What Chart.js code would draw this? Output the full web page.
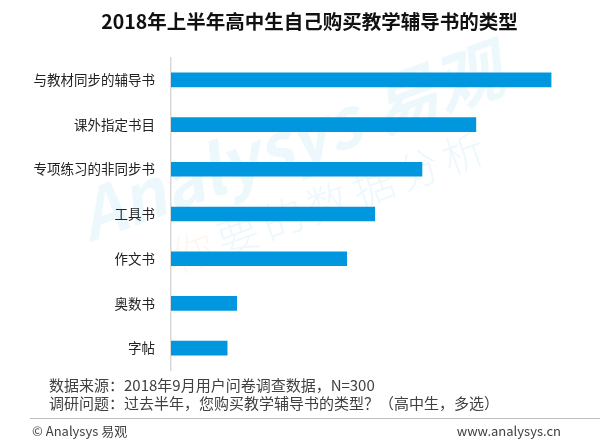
<!DOCTYPE html>
<html>
<head>
<meta charset="utf-8">
<script src="https://cdn.jsdelivr.net/npm/chart.js@4.4.0/dist/chart.umd.min.js"></script>
<style>
  html, body { margin: 0; padding: 0; background: #fff; }
  #wrap { position: relative; width: 607px; height: 444px; }
</style>
</head>
<body>
<div id="wrap"><canvas id="grafico" width="607" height="444"></canvas></div>
<script>
// ------------ Dados ------------
const categorias = ['与教材同步的辅导书', '课外指定书目', '专项练习的非同步书', '工具书', '作文书', '奥数书', '字帖'];
const valores = [67.7, 54.3, 44.7, 36.3, 31.3, 11.7, 10.0];

const titulo = '2018年上半年高中生自己购买教学辅导书的类型';
const notas = ['数据来源：2018年9月用户问卷调查数据，N=300', '调研问题：过去半年，您购买教学辅导书的类型？（高中生，多选）'];
const rodapeEsq = '© Analysys 易观';
const rodapeDir = 'www.analysys.cn';

const fonte = '"Noto Sans CJK SC", "Noto Sans", sans-serif';

// ------------ Textos e marca d'agua ------------
const textos = {
  id: 'textos',
  beforeDatasetsDraw(chart) {
    const ctx = chart.ctx;
    const ang = -20 * Math.PI / 180;
    ctx.save();
    ctx.textBaseline = 'middle';
    ctx.textAlign = 'center';

    ctx.save();
    ctx.translate(290, 142);
    ctx.rotate(ang);
    ctx.font = 'italic bold 68px ' + fonte;
    ctx.fillStyle = 'rgba(0,150,230,0.07)';
    ctx.fillText('Analysys 易观', 0, 0);
    ctx.restore();

    const slogan = '你要的数据分析';
    ctx.font = '300 42px ' + fonte;
    for (let i = 0; i < slogan.length; i++) {
      const d = (i - 3) * 48;
      ctx.save();
      ctx.translate(328 + d * Math.cos(ang), 202 + d * Math.sin(ang));
      ctx.rotate(ang);
      ctx.fillStyle = i === 0 ? 'rgba(255,150,40,0.08)' : 'rgba(0,150,230,0.07)';
      ctx.fillText(slogan[i], 0, 0);
      ctx.restore();
    }
    ctx.restore();
  },
  afterDraw(chart) {
    const ctx = chart.ctx;
    ctx.save();
    ctx.textBaseline = 'middle';
    ctx.fillStyle = '#111';
    ctx.font = 'bold 19.5px ' + fonte;
    ctx.textAlign = 'center';
    ctx.fillText(titulo, 309.5, 22);

    ctx.textAlign = 'left';
    ctx.fillStyle = '#404040';
    ctx.font = '15px ' + fonte;
    ctx.fillText(notas[0], 49, 385);
    ctx.fillText(notas[1], 49, 403);

    ctx.strokeStyle = '#bfbfbf';
    ctx.lineWidth = 1;
    ctx.beginPath();
    ctx.moveTo(30, 418.5);
    ctx.lineTo(600, 418.5);
    ctx.stroke();

    ctx.fillStyle = '#404040';
    ctx.font = '13px ' + fonte;
    ctx.fillText(rodapeEsq, 32, 431);
    ctx.textAlign = 'right';
    ctx.fillText(rodapeDir, 561, 431);
    ctx.restore();
  }
};

// ------------ Grafico ------------
new Chart(document.getElementById('grafico'), {
  type: 'bar',
  data: {
    labels: categorias,
    datasets: [{
      data: valores,
      backgroundColor: '#0097df',
      barThickness: 14
    }]
  },
  options: {
    indexAxis: 'y',
    responsive: false,
    animation: false,
    layout: { padding: { top: 57.5, bottom: 73.5, left: 0, right: 43 } },
    plugins: { legend: { display: false }, tooltip: { enabled: false } },
    scales: {
      x: { display: false, min: 0, max: 70 },
      y: {
        grid: { display: false },
        border: { display: true, color: '#d9d9d9', width: 1.5 },
        afterFit(scale) { scale.width = 171; },
        ticks: { color: '#222', padding: 8, font: { family: fonte, size: 13.5 } }
      }
    }
  },
  plugins: [textos]
});
</script>
</body>
</html>
